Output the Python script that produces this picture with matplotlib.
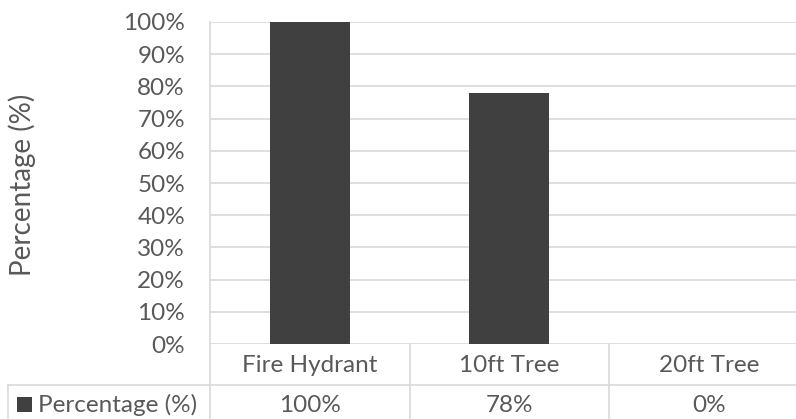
import matplotlib
matplotlib.use("Agg")
import matplotlib.pyplot as plt
from matplotlib.lines import Line2D
from matplotlib.patches import Rectangle

categories = ["Fire Hydrant", "10ft Tree", "20ft Tree"]
values = [100, 78, 0]
value_labels = ["100%", "78%", "0%"]
series_name = "Percentage (%)"
yticks = [0, 10, 20, 30, 40, 50, 60, 70, 80, 90, 100]
ytick_labels = [f"{t}%" for t in yticks]

TEXT = "#595959"
GRID = "#d9d9d9"
BAR = "#404040"
FONT = "Lato"
FS = 17.5

W, H = 796, 419
fig = plt.figure(figsize=(W / 100, H / 100), dpi=100)

# plot area in pixels
left, right, top, bottom = 210, 796, 22, 344
ax = fig.add_axes([left / W, (H - bottom) / H, (right - left) / W, (bottom - top) / H])

cat_w = 199.5  # pixels per category
x = list(range(len(categories)))
ax.bar(x, values, width=0.4, color=BAR, zorder=3)
ax.set_xlim(-0.5, -0.5 + (right - left) / cat_w)
ax.set_ylim(0, 100)
ax.set_yticks(yticks)
ax.set_yticklabels(ytick_labels, fontsize=FS, color=TEXT, family=FONT)
ax.tick_params(axis="y", length=0, pad=18)
ax.set_xticks([])
ax.grid(axis="y", color=GRID, linewidth=1.2, zorder=0)
for s in ax.spines.values():
    s.set_visible(False)

# axis title
fig.text(22 / W, (H - 185) / H, series_name, rotation=90, ha="center", va="center",
         fontsize=20, color=TEXT, family=FONT)

# data table below the plot
trans = ax.get_xaxis_transform()
row1 = -(385 - bottom) / (bottom - top)
row2 = -(419 - bottom) / (bottom - top)
table_left = -0.5 + (8 - left) / cat_w
line_kw = dict(color=GRID, linewidth=1.2, transform=trans, clip_on=False)
ax.add_line(Line2D([-0.5, -0.5], [1, row2], **line_kw))
for xb in [0.5, 1.5]:
    ax.add_line(Line2D([xb, xb], [0, row2], **line_kw))
ax.add_line(Line2D([table_left, 3], [row1, row1], **line_kw))
ax.add_line(Line2D([table_left, table_left], [row1, row2], **line_kw))

cat_y = -(365 - bottom) / (bottom - top)
val_y = -(405 - bottom) / (bottom - top)
for xi, cat, lab in zip(x, categories, value_labels):
    ax.text(xi, cat_y, cat, transform=trans, ha="center", va="center",
            fontsize=FS, color=TEXT, family=FONT)
    ax.text(xi, val_y, lab, transform=trans, ha="center", va="center",
            fontsize=FS, color=TEXT, family=FONT)

# legend key + series name in the table header cell
fig.add_artist(Rectangle((17 / W, (H - 412) / H), 15 / W, 15 / H,
                         facecolor=BAR, edgecolor="none", transform=fig.transFigure))
fig.text(38 / W, (H - 405) / H, series_name, ha="left", va="center",
         fontsize=FS, color=TEXT, family=FONT)

fig.savefig("out.png", dpi=100)
